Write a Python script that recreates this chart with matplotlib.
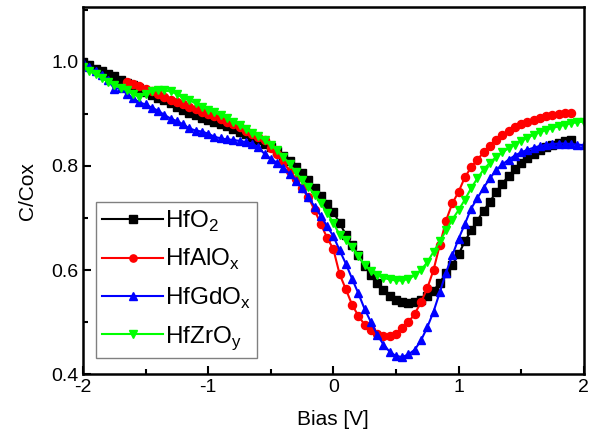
import matplotlib
matplotlib.use('Agg')
import matplotlib.pyplot as plt
from matplotlib.ticker import MultipleLocator

plt.rcParams['font.family'] = ['Liberation Sans', 'DejaVu Sans']
plt.rcParams['mathtext.fontset'] = 'custom'
plt.rcParams['mathtext.rm'] = 'Liberation Sans'
plt.rcParams['axes.unicode_minus'] = False

# bias grid (V), 0.05 V step
bias = [round(-2 + 0.05 * i, 2) for i in range(81)]

hfo2 = [1.000, 0.993, 0.987, 0.982, 0.977, 0.972, 0.966, 0.960, 0.955, 0.950,
        0.942, 0.936, 0.931, 0.926, 0.920, 0.913, 0.907, 0.902, 0.898, 0.893,
        0.889, 0.884, 0.880, 0.876, 0.871, 0.866, 0.861, 0.856, 0.850, 0.843,
        0.836, 0.829, 0.820, 0.810, 0.798, 0.786, 0.773, 0.758, 0.743, 0.727,
        0.712, 0.690, 0.668, 0.648, 0.628, 0.608, 0.590, 0.575, 0.562, 0.551,
        0.543, 0.538, 0.537, 0.539, 0.543, 0.550, 0.560, 0.576, 0.594, 0.610,
        0.630, 0.655, 0.676, 0.695, 0.714, 0.731, 0.750, 0.766, 0.781, 0.794,
        0.805, 0.815, 0.823, 0.830, 0.836, 0.841, 0.845, 0.848, 0.850]

# HfAlOx starts at -1.65 V
hfalo_bias = bias[7:79]
hfalo = [0.962, 0.958, 0.953, 0.948, 0.943, 0.938, 0.933, 0.927, 0.922, 0.918,
         0.914, 0.909, 0.904, 0.899, 0.895, 0.890, 0.885, 0.880, 0.874, 0.868,
         0.862, 0.856, 0.849, 0.835, 0.822, 0.808, 0.790, 0.774, 0.758, 0.740,
         0.715, 0.688, 0.662, 0.640, 0.592, 0.563, 0.533, 0.512, 0.495, 0.485,
         0.477, 0.473, 0.474, 0.478, 0.489, 0.500, 0.516, 0.538, 0.565, 0.600,
         0.648, 0.695, 0.728, 0.750, 0.778, 0.797, 0.812, 0.826, 0.838, 0.850,
         0.860, 0.868, 0.875, 0.880, 0.885, 0.889, 0.893, 0.896, 0.898, 0.900,
         0.901, 0.901]

hfgdo = [1.000, 0.990, 0.982, 0.975, 0.965, 0.948, 0.950, 0.938, 0.930, 0.922,
         0.918, 0.912, 0.906, 0.898, 0.891, 0.886, 0.880, 0.872, 0.868, 0.866,
         0.862, 0.856, 0.853, 0.851, 0.850, 0.848, 0.846, 0.843, 0.836, 0.823,
         0.814, 0.806, 0.796, 0.785, 0.772, 0.758, 0.740, 0.722, 0.704, 0.684,
         0.665, 0.638, 0.612, 0.583, 0.555, 0.525, 0.500, 0.476, 0.457, 0.443,
         0.435, 0.433, 0.438, 0.447, 0.465, 0.490, 0.520, 0.557, 0.595, 0.628,
         0.660, 0.688, 0.718, 0.738, 0.758, 0.776, 0.792, 0.803, 0.812, 0.820,
         0.826, 0.831, 0.835, 0.838, 0.841, 0.842, 0.843, 0.843, 0.842, 0.841,
         0.840]

hfzro = [0.990, 0.982, 0.976, 0.968, 0.962, 0.955, 0.950, 0.945, 0.938, 0.933,
         0.938, 0.944, 0.946, 0.945, 0.943, 0.938, 0.930, 0.926, 0.920, 0.914,
         0.908, 0.903, 0.897, 0.892, 0.885, 0.878, 0.871, 0.864, 0.857, 0.849,
         0.840, 0.830, 0.818, 0.803, 0.788, 0.773, 0.760, 0.745, 0.728, 0.710,
         0.690, 0.668, 0.657, 0.645, 0.627, 0.610, 0.598, 0.590, 0.585, 0.582,
         0.580, 0.580, 0.583, 0.590, 0.600, 0.615, 0.635, 0.655, 0.676, 0.697,
         0.715, 0.735, 0.757, 0.776, 0.793, 0.806, 0.817, 0.826, 0.834, 0.841,
         0.848, 0.854, 0.860, 0.865, 0.869, 0.873, 0.876, 0.879, 0.882, 0.884,
         0.885]

fig = plt.figure(figsize=(5.89, 4.46), dpi=100)
ax = fig.add_axes([0.141, 0.161, 0.850, 0.823])

ms = 5.8
ax.plot(bias[:len(hfo2)], hfo2, '-s', color='black', lw=1.5, ms=ms, label='HfO$_\\mathregular{2}$')
ax.plot(hfalo_bias, hfalo, '-o', color='#ff0000', lw=1.5, ms=ms, label='HfAlO$_\\mathregular{x}$')
ax.plot(bias, hfgdo, '-^', color='#0000ff', lw=1.5, ms=ms, label='HfGdO$_\\mathregular{x}$')
ax.plot(bias, hfzro, '-v', color='#00ff00', lw=1.5, ms=ms, label='HfZrO$_\\mathregular{y}$')

ax.set_xlim(-2, 2)
ax.set_ylim(0.4, 1.105)
ax.xaxis.set_major_locator(MultipleLocator(1))
ax.xaxis.set_minor_locator(MultipleLocator(0.5))
ax.yaxis.set_minor_locator(MultipleLocator(0.1))
ax.set_yticks([0.4, 0.6, 0.8, 1.0])
ax.set_yticklabels(['0.4', '0.6', '0.8', '1.0'])
ax.tick_params(which='both', direction='in', top=False, right=False, width=1.5, labelsize=14)
ax.tick_params(which='major', length=6)
ax.tick_params(which='minor', length=3.5)
for s in ax.spines.values():
    s.set_linewidth(1.8)

ax.set_xlabel('Bias [V]', fontsize=15, labelpad=10)
ax.set_ylabel('C/Cox', fontsize=15, labelpad=10)

leg = ax.legend(loc='lower left', bbox_to_anchor=(0.026, 0.044), borderaxespad=0,
                fontsize=17.5, handlelength=2.5, handletextpad=0.1, labelspacing=0.55,
                numpoints=1, fancybox=False, framealpha=1, edgecolor='gray',
                borderpad=0.25, markerscale=0.9)
leg.get_frame().set_linewidth(1.0)

fig.savefig('out.png', dpi=100)
